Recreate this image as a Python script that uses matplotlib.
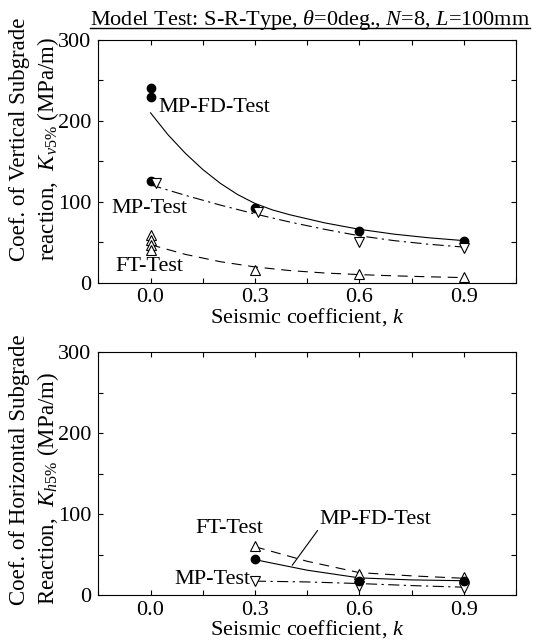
import numpy as np
import matplotlib.pyplot as plt
from matplotlib.lines import Line2D
from matplotlib.ticker import MultipleLocator

plt.rcParams['font.family'] = ['Liberation Serif', 'DejaVu Serif']
plt.rcParams['mathtext.fontset'] = 'custom'
plt.rcParams['mathtext.rm'] = 'Liberation Serif'
plt.rcParams['mathtext.it'] = 'Liberation Serif:italic'
plt.rcParams['font.size'] = 16

# vertical subgrade reaction, measured points
v_mpfd_k = [0.0, 0.0, 0.0, 0.3, 0.6, 0.9]
v_mpfd = [241, 230, 125.5, 92, 64.5, 51.5]
v_mp_k = [0.015, 0.31, 0.6, 0.9]
v_mp = [123.5, 88, 50.5, 43.5]
v_ft_k = [0.0, 0.0, 0.0, 0.0, 0.3, 0.6, 0.9]
v_ft = [59, 53, 46, 40, 15.5, 10.5, 6.5]

# vertical, fitted curves
v_mpfd_fit_k = [0.0, 0.05, 0.1, 0.15, 0.2, 0.25, 0.3, 0.35, 0.4, 0.45, 0.5,
                0.6, 0.7, 0.8, 0.9]
v_mpfd_fit = [210, 183, 160, 140, 123, 109, 98, 90, 84, 79, 74,
              66, 60, 55.5, 52]
v_mp_fit_k = [0.0, 0.1, 0.2, 0.3, 0.4, 0.5, 0.6, 0.7, 0.8, 0.9]
v_mp_fit = [121, 108, 96, 85, 75, 66, 58, 52, 47.5, 44]
v_ft_fit_k = [0.0, 0.1, 0.2, 0.3, 0.4, 0.5, 0.6, 0.7, 0.8, 0.9]
v_ft_fit = [47, 35, 26, 19.5, 15, 12, 10, 8.5, 7.3, 6.3]

# horizontal subgrade reaction, measured points
h_k = [0.3, 0.6, 0.9]
h_mpfd = [44.5, 18, 17.5]
h_mp = [17.5, 11.5, 9]
h_ft = [61, 26, 22]

# horizontal, fitted curves
h_fit_k = [0.3, 0.45, 0.6, 0.75, 0.9]
h_mpfd_fit = [44, 31, 21.5, 19, 18]
h_mp_fit = [17.5, 16.5, 14.5, 12, 10]
h_ft_fit = [60, 42, 28, 24, 21]

xticks = [0.0, 0.3, 0.6, 0.9]
yticks = [0, 100, 200, 300]

W, H = 533, 641
fig = plt.figure(figsize=(W / 100, H / 100), dpi=100)
ax1 = fig.add_axes([98.3 / W, 1 - 282.7 / H, 417.7 / W, 242.7 / H])
ax2 = fig.add_axes([98.3 / W, 1 - 595.3 / H, 417.7 / W, 243 / H])

lw = 0.8
mk = dict(linestyle='none', zorder=5)
circ = dict(marker='o', ms=6, mfc='black', mec='black', **mk)
up = dict(marker='^', ms=6.5, mfc='white', mec='black', mew=0.8, **mk)
down = dict(marker='v', ms=6.5, mfc='white', mec='black', mew=0.8, **mk)
dash = (9, 6)
dashdot = (10, 4, 2, 4)

for ax in (ax1, ax2):
    ax.set_xlim(-0.15, 1.05)
    ax.set_ylim(0, 300)
    ax.set_xticks(xticks)
    ax.set_xticklabels([f"{v:.1f}" for v in xticks])
    ax.set_yticks(yticks)
    ax.xaxis.set_minor_locator(MultipleLocator(0.15))
    ax.yaxis.set_minor_locator(MultipleLocator(50))
    ax.tick_params(which='both', direction='in', top=True, right=True,
                   length=3.6, width=0.8)
    ax.tick_params(which='major', labelsize=16)
    ax.tick_params(axis='x', which='major', pad=4)
    ax.tick_params(axis='y', which='major', pad=5)
    for s in ax.spines.values():
        s.set_linewidth(0.8)
    ax.set_xlabel("Seismic coefficient, $k$", fontsize=16, labelpad=-1)

# top: vertical
ax1.plot(v_mpfd_fit_k, v_mpfd_fit, color='black', lw=lw)
ax1.plot(v_mp_fit_k, v_mp_fit, color='black', lw=lw, dashes=dashdot)
ax1.plot(v_ft_fit_k, v_ft_fit, color='black', lw=lw, dashes=dash)
ax1.plot(v_ft_k, v_ft, **up)
ax1.plot(v_mpfd_k, v_mpfd, **circ)
ax1.plot(v_mp_k, v_mp, **down)
ax1.text(0.024, 217, "MP-FD-Test", ha='left', va='center', fontsize=16)
ax1.text(-0.112, 92, "MP-Test", ha='left', va='center', fontsize=16)
ax1.text(-0.101, 20, "FT-Test", ha='left', va='center', fontsize=16)

# bottom: horizontal
ax2.plot(h_fit_k, h_mpfd_fit, color='black', lw=lw)
ax2.plot(h_fit_k, h_mp_fit, color='black', lw=lw, dashes=dashdot)
ax2.plot(h_fit_k, h_ft_fit, color='black', lw=lw, dashes=dash)
ax2.plot(h_k, h_ft, **up)
ax2.plot(h_k, h_mp, **down)
ax2.plot(h_k, h_mpfd, **circ)
ax2.text(0.13, 83, "FT-Test", ha='left', va='center', fontsize=16)
ax2.text(0.486, 93, "MP-FD-Test", ha='left', va='center', fontsize=16)
ax2.text(0.288, 19, "MP-Test", ha='right', va='center', fontsize=16)
ax2.annotate('', xy=(0.407, 37), xytext=(0.48, 80),
             arrowprops=dict(arrowstyle='-', lw=lw, color='black',
                             shrinkA=0, shrinkB=0))

# y labels as two-line rotated blocks
fig.text(35 / W, 1 - 139 / H,
         "Coef. of Vertical Subgrade\nreaction,  $K_{v5\\%}$ (MPa/m)",
         rotation=90, ha='center', va='center', multialignment='left',
         fontsize=16.5, linespacing=1.3)
fig.text(35 / W, 1 - 470 / H,
         "Coef. of Horizontal Subgrade\nReaction,  $K_{h5\\%}$ (MPa/m)",
         rotation=90, ha='center', va='center', multialignment='left',
         fontsize=16.5, linespacing=1.3)

# underlined title
title = fig.text(530 / W, 1 - 25 / H,
                 "Model Test: S-R-Type, $\\theta$=0deg., $N$=8, $L$=100mm",
                 ha='right', va='baseline', fontsize=16)
fig.canvas.draw()
bb = title.get_window_extent(fig.canvas.get_renderer())
uy = 1 - 28 / H
fig.add_artist(Line2D([bb.x0 / W, bb.x1 / W], [uy, uy],
                      transform=fig.transFigure, color='black', lw=1.0))

fig.savefig("out.png", dpi=100)
